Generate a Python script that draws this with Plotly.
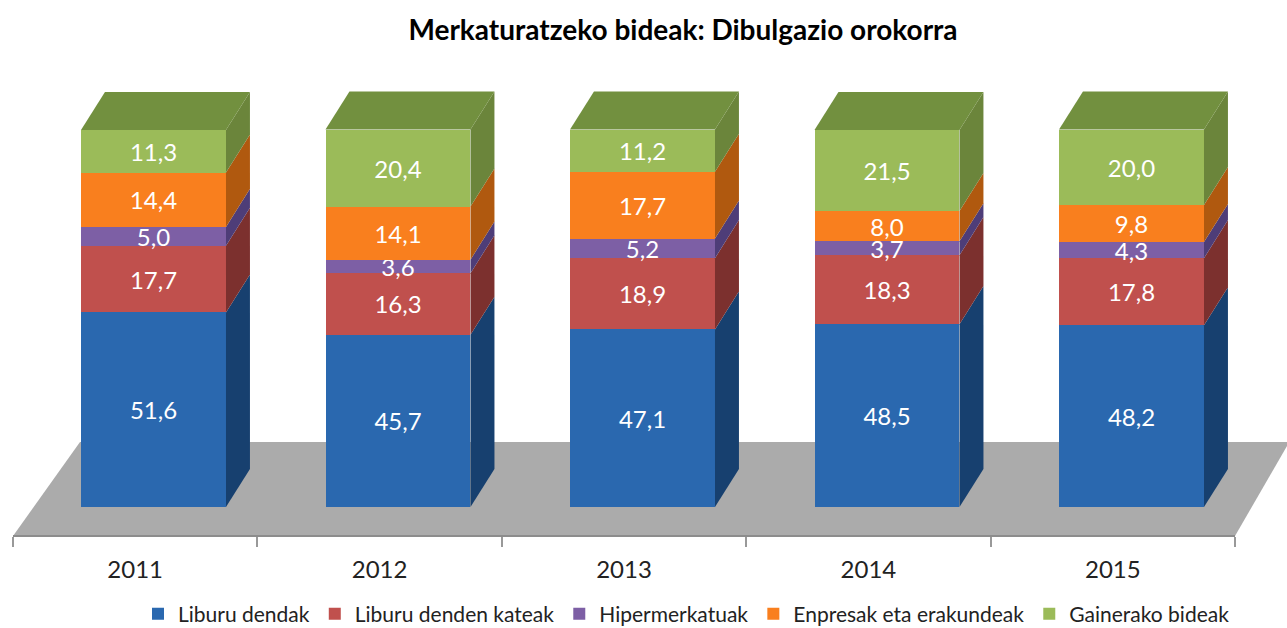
import plotly.graph_objects as go

years = ["2011", "2012", "2013", "2014", "2015"]
liburu_dendak = [51.6, 45.7, 47.1, 48.5, 48.2]
liburu_kateak = [17.7, 16.3, 18.9, 18.3, 17.8]
hipermerkatuak = [5.0, 3.6, 5.2, 3.7, 4.3]
enpresak = [14.4, 14.1, 17.7, 8.0, 9.8]
gainerako = [11.3, 20.4, 11.2, 21.5, 20.0]

series = [
    ("Liburu dendak", liburu_dendak, "#2A68AF", "#17406F"),
    ("Liburu denden kateak", liburu_kateak, "#C0504D", "#7C302E"),
    ("Hipermerkatuak", hipermerkatuak, "#7D5FA5", "#4E3D78"),
    ("Enpresak eta erakundeak", enpresak, "#F97F1E", "#B0590F"),
    ("Gainerako bideak", gainerako, "#9BBB59", "#6B853B"),
]
TOP_COLOR = "#72903F"
FONT = "Lato"
W, H = 1287, 628
BAR_W = 0.593
DX = 0.098   # depth of the pseudo-3D box, category units
DY = 10.1    # depth of the pseudo-3D box, value units

fig = go.Figure()
xs = list(range(len(years)))

for name, vals, color, _ in series:
    fig.add_trace(go.Bar(
        x=xs, y=vals, name=name, width=BAR_W, marker=dict(color=color, line=dict(width=0)),
        text=vals, texttemplate="%{y:.1f}", textposition="inside", insidetextanchor="middle",
        textangle=0, constraintext="none", cliponaxis=False,
        textfont=dict(family=FONT, size=24, color="white"), hoverinfo="skip",
    ))

base = [0.0] * len(years)
for name, vals, _, dark in series:
    for i, v in enumerate(vals):
        xr = xs[i] + BAR_W / 2
        y0, y1 = base[i], base[i] + v
        fig.add_trace(go.Scatter(
            x=[xr, xr + DX, xr + DX, xr, xr], y=[y0, y0 + DY, y1 + DY, y1, y0],
            mode="lines", fill="toself", fillcolor=dark, line=dict(width=0),
            showlegend=False, hoverinfo="skip",
        ))
        base[i] = y1

for i in xs:
    xl, xr = xs[i] - BAR_W / 2, xs[i] + BAR_W / 2
    fig.add_trace(go.Scatter(
        x=[xl, xl + DX, xr + DX, xr, xl],
        y=[base[i], base[i] + DY, base[i] + DY, base[i], base[i]],
        mode="lines", fill="toself", fillcolor=TOP_COLOR, line=dict(width=0),
        showlegend=False, hoverinfo="skip",
    ))

# category axis sits on its own pair of axes, spanning only the floor's front edge
fig.add_trace(go.Scatter(x=years, y=[0] * len(years), xaxis="x2", yaxis="y2", mode="markers",
                         marker=dict(opacity=0), showlegend=False, hoverinfo="skip"))

# floor
fx = lambda p: (p - 153.5) / 244.5
fy = lambda p: (507 - p) / 3.77
floor = [(13, 536), (80, 442), (1287, 442), (1287, 446), (1235, 536)]
path = "M " + " L ".join(f"{fx(a):.4f} {fy(b):.4f}" for a, b in floor) + " Z"
fig.add_shape(type="path", path=path, xref="x", yref="y", layer="below",
              fillcolor="#ABABAB", line=dict(width=0))

fig.update_layout(
    width=W, height=H, autosize=False, margin=dict(l=0, r=0, t=0, b=0, autoexpand=False),
    barmode="stack", separators=",.", paper_bgcolor="white", plot_bgcolor="rgba(0,0,0,0)",
    font=dict(family=FONT, color="#222222"),
    title=dict(text="<b>Merkaturatzeko bideak: Dibulgazio orokorra</b>", x=683 / W, xanchor="center",
               y=1 - 30 / H, yanchor="middle", font=dict(family=FONT, size=28, color="black")),
    xaxis=dict(domain=[0, 1], range=[fx(0), fx(W)], visible=False, fixedrange=True),
    yaxis=dict(domain=[0, 1], range=[fy(H), fy(0)], visible=False, fixedrange=True),
    xaxis2=dict(domain=[13 / W, 1235 / W], type="category", categoryorder="array", categoryarray=years,
                range=[-0.5, len(years) - 0.5], fixedrange=True,
                anchor="y2", tickson="boundaries", ticks="outside", ticklen=10, tickwidth=1.5,
                tickcolor="#999999", showline=True, linecolor="#8C8C8C", linewidth=2, showgrid=False,
                tickfont=dict(family=FONT, size=24, color="#222222"), ticklabelstandoff=12),
    yaxis2=dict(domain=[1 - 535 / H, 1], anchor="x2", visible=False, fixedrange=True),
    legend=dict(orientation="h", x=138 / W, xanchor="left", y=1 - 614 / H, yanchor="middle",
                bgcolor="rgba(0,0,0,0)", font=dict(family=FONT, size=21, color="#222222"),
                itemwidth=30, traceorder="normal"),
)

fig.write_html("out.html", config=dict(displayModeBar=False),
               post_script="document.body.style.margin='0';")
